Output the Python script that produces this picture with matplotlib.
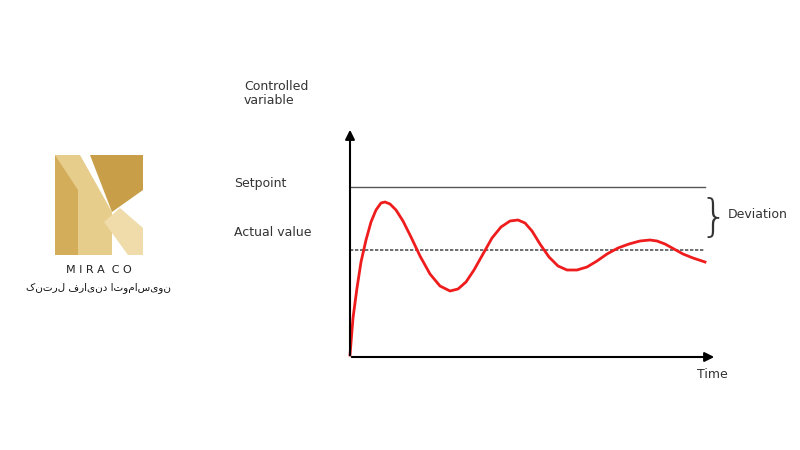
import matplotlib
matplotlib.use("Agg")
import matplotlib.pyplot as plt
from matplotlib.patches import Polygon

# response curve (pixel units, y down)
curve_x = [350, 353, 357, 361, 366, 371, 376, 381, 385, 390, 396, 403, 411, 420, 430, 440, 450, 458, 466,
           474, 483, 492, 501, 510, 518, 525, 532, 540, 549, 558, 567, 577, 587, 597, 607, 618, 629, 640,
           650, 657, 665, 674, 683, 693, 705]
curve_y = [355, 318, 288, 262, 240, 222, 210, 203, 202, 204, 210, 221, 237, 256, 274, 286, 291, 289, 282,
           270, 254, 238, 227, 221, 220, 223, 231, 244, 257, 266, 270, 270, 267, 261, 254, 248, 244, 241,
           240, 241, 244, 249, 254, 258, 262]
setpoint_y = 187
actual_y = 250

fig = plt.figure(figsize=(8, 4.5), dpi=100)
ax = fig.add_axes([0, 0, 1, 1])
ax.set_xlim(0, 800); ax.set_ylim(450, 0); ax.axis("off")

# logo: stylised gold M
ax.add_patch(Polygon([(55, 155), (78, 155), (78, 255), (55, 255)], closed=True, fc="#d4ad5a", ec="none"))
ax.add_patch(Polygon([(55, 155), (80, 155), (112, 212), (112, 255), (78, 255), (78, 190)],
                     closed=True, fc="#e6cd8c", ec="none"))
ax.add_patch(Polygon([(90, 155), (143, 155), (143, 190), (112, 212)], closed=True, fc="#c89f48", ec="none"))
ax.add_patch(Polygon([(104, 222), (120, 208), (143, 228), (143, 255), (128, 255)],
                     closed=True, fc="#efdcaa", ec="none"))
ax.text(99, 270, "M I R A  C O", ha="center", va="center", fontsize=8, color="#222")
ax.text(99, 288, "کنترل فرایند اتوماسیون", ha="center", va="center", fontsize=7.5, color="#111",
        family=["DejaVu Sans"])

# axes
ax.annotate("", xy=(350, 127), xytext=(350, 358),
            arrowprops=dict(arrowstyle="-|>", color="black", lw=1.5, mutation_scale=14))
ax.annotate("", xy=(717, 357), xytext=(349, 357),
            arrowprops=dict(arrowstyle="-|>", color="black", lw=1.5, mutation_scale=14))

ax.plot([350, 705], [setpoint_y, setpoint_y], color="#555", lw=1)
ax.plot([350, 705], [actual_y, actual_y], color="#555", lw=1.2, ls=(0, (2, 1)))
ax.plot(curve_x, curve_y, color="#ee1c1c", lw=2)

fs = 9
ax.text(244, 93, "Controlled\nvariable", ha="left", va="center", fontsize=fs, color="#333", linespacing=1.1)
ax.text(234, 183, "Setpoint", ha="left", va="center", fontsize=fs, color="#333")
ax.text(234, 233, "Actual value", ha="left", va="center", fontsize=fs, color="#333")
ax.text(697, 375, "Time", ha="left", va="center", fontsize=fs, color="#333")
ax.text(714, 218, "}", ha="center", va="center", fontsize=32, color="#333", fontweight="ultralight")
ax.text(728, 215, "Deviation", ha="left", va="center", fontsize=fs, color="#333")

fig.savefig("out.png", dpi=100)
